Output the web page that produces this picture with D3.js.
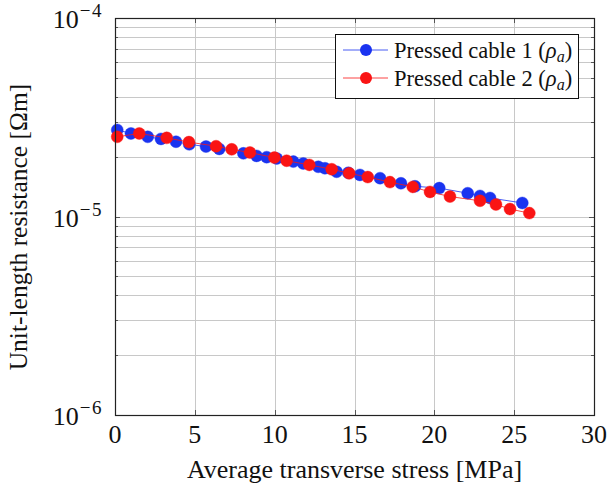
<!DOCTYPE html>
<html>
<head>
<meta charset="utf-8">
<script src="https://cdn.jsdelivr.net/npm/d3@7"></script>
<style>
  html, body { margin: 0; padding: 0; background: #fff; }
  svg { display: block; font-family: "Liberation Serif", "DejaVu Serif", serif; }
</style>
</head>
<body>
<svg id="chart" width="608" height="485"></svg>
<script>
// Average transverse stress [MPa] and unit-length resistance [Ωm]
const cable1Stress = [0.14, 1.00, 2.05, 2.88, 3.82, 4.65, 5.70, 6.53, 8.04, 8.87, 9.50, 10.13,
  11.17, 11.79, 12.73, 13.15, 13.88, 14.61, 15.34, 16.60, 17.91, 18.79, 20.31, 22.09, 22.86, 23.49, 25.51];
const cable1Resist = [2.73e-5, 2.62e-5, 2.52e-5, 2.46e-5, 2.38e-5, 2.31e-5, 2.25e-5, 2.19e-5, 2.08e-5,
  2.02e-5, 1.99e-5, 1.96e-5, 1.89e-5, 1.85e-5, 1.78e-5, 1.75e-5, 1.68e-5, 1.66e-5, 1.62e-5, 1.56e-5,
  1.47e-5, 1.42e-5, 1.39e-5, 1.31e-5, 1.27e-5, 1.24e-5, 1.17e-5];

const cable2Stress = [0.14, 1.52, 3.24, 4.63, 6.33, 7.31, 8.45, 9.98, 10.75, 12.17, 13.57, 14.67,
  15.83, 17.22, 18.65, 19.73, 20.98, 22.86, 23.86, 24.74, 25.95];
const cable2Resist = [2.52e-5, 2.62e-5, 2.49e-5, 2.37e-5, 2.26e-5, 2.18e-5, 2.10e-5, 1.98e-5, 1.91e-5,
  1.82e-5, 1.73e-5, 1.65e-5, 1.58e-5, 1.49e-5, 1.41e-5, 1.33e-5, 1.26e-5, 1.20e-5, 1.15e-5, 1.09e-5, 1.04e-5];

const xTicks = [0, 5, 10, 15, 20, 25, 30];
const yDecades = [-6, -5, -4];
const seriesNames = ["Pressed cable 1", "Pressed cable 2"];
const seriesColors = ["#1a33f0", "#fa1414"];

const svg = d3.select("#chart");
const L = 115, R = 594, T = 18, B = 415;

const x = d3.scaleLinear().domain([0, 30]).range([L, R]);
const y = d3.scaleLog().domain([1e-6, 1e-4]).range([B, T]);

// minor values for the log axis
const minor = [];
for (const d of [-6, -5]) for (let k = 2; k <= 9; k++) minor.push(k * Math.pow(10, d));

const grid = svg.append("g").attr("stroke", "#c8c8c8").attr("stroke-width", 1);
minor.forEach(v => grid.append("line").attr("x1", L).attr("x2", R)
  .attr("y1", Math.round(y(v)) + 0.5).attr("y2", Math.round(y(v)) + 0.5));
yDecades.forEach(e => grid.append("line").attr("x1", L).attr("x2", R)
  .attr("y1", Math.round(y(Math.pow(10, e))) + 0.5).attr("y2", Math.round(y(Math.pow(10, e))) + 0.5));
xTicks.forEach(t => grid.append("line").attr("y1", T).attr("y2", B)
  .attr("x1", Math.round(x(t)) + 0.5).attr("x2", Math.round(x(t)) + 0.5));

// tick marks on all four sides
const ticks = svg.append("g").attr("stroke", "#555").attr("stroke-width", 1);
minor.forEach(v => {
  const yy = Math.round(y(v)) + 0.5;
  ticks.append("line").attr("x1", L).attr("x2", L + 3).attr("y1", yy).attr("y2", yy);
  ticks.append("line").attr("x1", R).attr("x2", R - 3).attr("y1", yy).attr("y2", yy);
});
yDecades.forEach(e => {
  const yy = Math.round(y(Math.pow(10, e))) + 0.5;
  ticks.append("line").attr("x1", L).attr("x2", L + 5).attr("y1", yy).attr("y2", yy);
  ticks.append("line").attr("x1", R).attr("x2", R - 5).attr("y1", yy).attr("y2", yy);
});
xTicks.forEach(t => {
  const xx = Math.round(x(t)) + 0.5;
  ticks.append("line").attr("x1", xx).attr("x2", xx).attr("y1", B).attr("y2", B - 5);
  ticks.append("line").attr("x1", xx).attr("x2", xx).attr("y1", T).attr("y2", T + 5);
});

// series: thin line with filled circle markers
const series = [
  { xs: cable1Stress, ys: cable1Resist, color: seriesColors[0] },
  { xs: cable2Stress, ys: cable2Resist, color: seriesColors[1] }
];
const line = d3.line().x(d => x(d[0])).y(d => y(d[1]));
series.forEach(s => {
  const pts = s.xs.map((v, i) => [v, s.ys[i]]);
  svg.append("path").datum(pts).attr("d", line).attr("fill", "none")
    .attr("stroke", s.color).attr("stroke-width", 0.8);
  svg.append("g").selectAll("circle").data(pts).join("circle")
    .attr("cx", d => x(d[0])).attr("cy", d => y(d[1])).attr("r", 6)
    .attr("fill", s.color).attr("stroke", s.color).attr("stroke-width", 0.4);
});

// frame
svg.append("rect").attr("x", L + 0.5).attr("y", T + 0.5).attr("width", R - L)
  .attr("height", B - T).attr("fill", "none").attr("stroke", "#222").attr("stroke-width", 1.2);

// x tick labels
svg.append("g").selectAll("text").data(xTicks).join("text")
  .attr("x", d => x(d)).attr("y", 443).attr("text-anchor", "middle")
  .attr("font-size", 26).attr("fill", "#111").text(d => d);

// y tick labels 10^e
yDecades.forEach(e => {
  const t = svg.append("text").attr("x", 103).attr("y", y(Math.pow(10, e)) + 10)
    .attr("text-anchor", "end").attr("font-size", 26).attr("fill", "#111");
  t.append("tspan").text("10");
  t.append("tspan").attr("dy", -11).attr("dx", 1).attr("font-size", 19)
    .attr("letter-spacing", 1.5).text("\u2212" + Math.abs(e));
});

// axis titles
svg.append("text").attr("x", x(15)).attr("y", 478).attr("text-anchor", "middle")
  .attr("font-size", 26).attr("fill", "#111").text("Average transverse stress [MPa]");
svg.append("text").attr("transform", `translate(27,227) rotate(-90)`)
  .attr("text-anchor", "middle").attr("font-size", 25.5).attr("fill", "#111")
  .text("Unit-length resistance [\u03A9m]");

// legend
const lg = svg.append("g");
lg.append("rect").attr("x", 335.5).attr("y", 34.5).attr("width", 243).attr("height", 64)
  .attr("fill", "#fff").attr("stroke", "#111").attr("stroke-width", 1);
seriesNames.forEach((name, i) => {
  const yy = 50 + i * 28;
  lg.append("line").attr("x1", 343).attr("x2", 388).attr("y1", yy).attr("y2", yy)
    .attr("stroke", seriesColors[i]).attr("stroke-width", 0.8);
  lg.append("circle").attr("cx", 366).attr("cy", yy).attr("r", 6).attr("fill", seriesColors[i]);
  const t = lg.append("text").attr("x", 394).attr("y", yy + 7.5).attr("font-size", 22.5).attr("fill", "#111");
  t.append("tspan").text(name + " (");
  t.append("tspan").attr("font-style", "italic").text("\u03C1");
  t.append("tspan").attr("font-style", "italic").attr("font-size", 16).attr("dy", 4).text("a");
  t.append("tspan").attr("dy", -4).text(")");
});
</script>
</body>
</html>
